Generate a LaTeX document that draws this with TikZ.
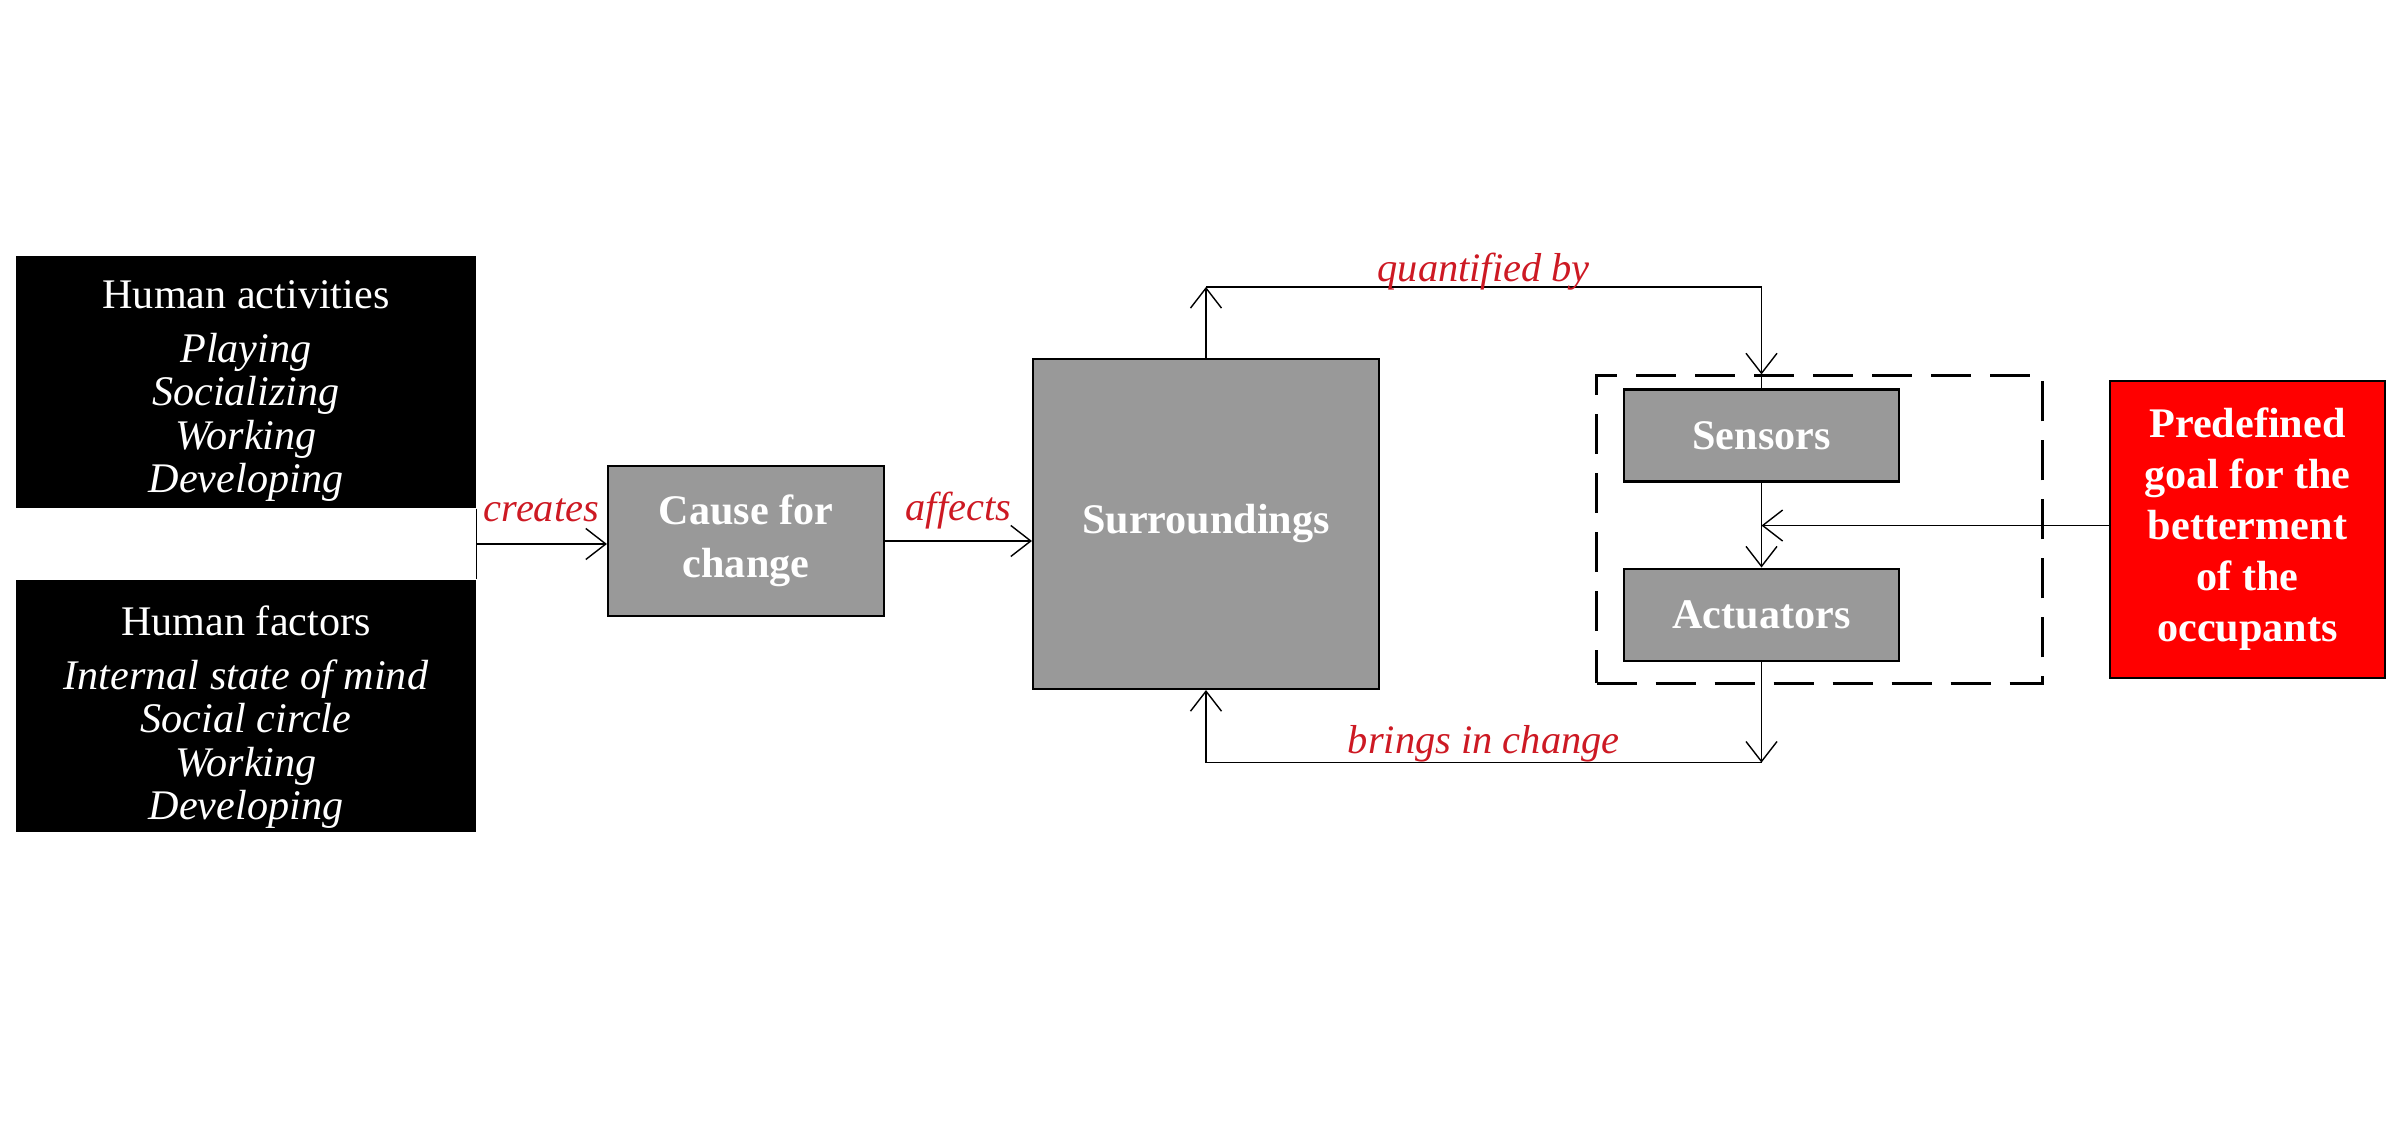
\documentclass[tikz,border=0pt]{standalone}
\usepackage{fontspec}
\setmainfont{Liberation Serif}
\usetikzlibrary{arrows.meta,positioning}
\definecolor{boxgray}{RGB}{153,153,153}
\definecolor{lblred}{RGB}{205,25,35}
\tikzset{
  blackbox/.style={fill=black,text=white,minimum width=4.6cm,minimum height=2.52cm,
    inner sep=0pt,align=center,font=\fontsize{12}{12.4}\selectfont},
  graybox/.style={draw=black,line width=0.6pt,fill=boxgray,text=white,inner sep=0pt,
    align=center,font=\fontsize{12}{15}\selectfont\bfseries},
  goalbox/.style={draw=black,line width=0.6pt,fill=red,text=white,inner sep=0pt,
    minimum width=2.75cm,minimum height=2.97cm,align=center,
    font=\fontsize{12}{14.5}\selectfont\bfseries},
  groupbox/.style={draw=black,line width=0.6pt,dash pattern=on 0.40cm off 0.19cm,
    minimum width=4.46cm,minimum height=3.08cm},
  lbl/.style={text=lblred,font=\fontsize{11.5}{13}\selectfont\itshape,inner sep=0pt,anchor=base},
  arr/.style={-{Straight Barb[length=2mm,width=3.1mm]}}
}
\begin{document}
\begin{tikzpicture}
\useasboundingbox (0,0) rectangle (24.03,-11.24);
% human side
\node[blackbox] (act) at (2.46,-3.82) {\rule{0pt}{0.46cm}Human activities\\[3pt]
  \textit{Playing}\\ \textit{Socializing}\\ \textit{Working}\\ \textit{Developing}};
\node[blackbox] (fac) at (2.46,-7.06) {\rule{0pt}{0.52cm}Human factors\\[3pt]
  \textit{Internal state of mind}\\ \textit{Social circle}\\ \textit{Working}\\ \textit{Developing}};
\node[graybox,minimum width=2.76cm,minimum height=1.50cm] (cause) at (7.46,-5.41) {Cause for\\change};
\node[graybox,minimum width=3.46cm,minimum height=3.30cm] (surr) at (12.06,-5.24) {Surroundings};
% sensing and acting
\node[groupbox] (grp) at (18.195,-5.295) {};
\node[graybox,minimum width=2.75cm,minimum height=0.92cm] (sensors) at (17.615,-4.355) {Sensors};
\node[graybox,minimum width=2.75cm,minimum height=0.92cm,below=0.85cm of sensors] (actuators) {Actuators};
\node[goalbox] (goal) at (22.475,-5.295) {Predefined\\goal for the\\betterment\\of the\\occupants};
\coordinate (join) at (4.76,-5.44);
\coordinate[above=0.71cm of surr.north] (qa);
\coordinate (qb) at (qa -| sensors.north);
\coordinate[below=0.43cm of sensors.south] (mid);
\coordinate[below=1.01cm of actuators.south] (ba);
\coordinate (bb) at (ba -| surr.south);
% connectors
\draw (act.south east) -- (fac.north east);
\draw[arr] (join) -- (join -| cause.west) node[lbl,midway,yshift=0.22cm] {creates};
\draw[arr] (cause.east) -- (cause.east -| surr.west) node[lbl,midway,yshift=0.2cm] {affects};
\draw[arr] (surr.north) -- (qa);
\draw (qa) -- (qb) node[lbl,midway,yshift=0.05cm] {quantified by};
\draw[arr] (qb) -- (qb |- grp.north);
\draw (qb |- grp.north) -- (sensors.north);
\draw[arr] (sensors.south) -- (actuators.north);
\draw[arr] (goal.west |- mid) -- (mid);
\draw[arr] (actuators.south) -- (ba);
\draw (ba) -- (bb) node[lbl,midway,yshift=0.09cm] {brings in change};
\draw[arr] (bb) -- (surr.south);
\end{tikzpicture}
\end{document}
